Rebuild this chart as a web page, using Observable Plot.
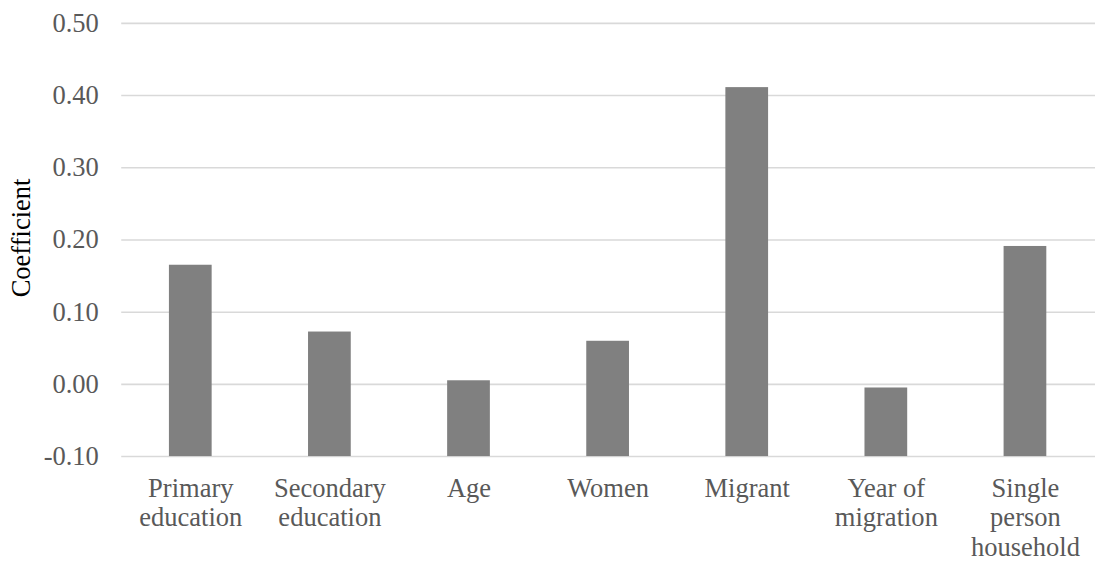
<!DOCTYPE html>
<html>
<head>
<meta charset="utf-8">
<script src="https://cdn.jsdelivr.net/npm/d3@7"></script>
<script src="https://cdn.jsdelivr.net/npm/@observablehq/plot@0.6"></script>
<style>
  html, body { margin: 0; padding: 0; background: #fff; overflow: hidden; }
  #chart { width: 1095px; height: 563px; overflow: hidden; }
  #chart svg, #chart svg text { font-family: "Liberation Serif", "Times New Roman", serif !important; }
</style>
</head>
<body>
<div id="chart"></div>
<script>
const categories = ["Primary education", "Secondary education", "Age", "Women", "Migrant", "Year of migration", "Single person household"];
const tickLabels = ["Primary\neducation", "Secondary\neducation", "Age", "Women", "Migrant", "Year of\nmigration", "Single\nperson\nhousehold"];
const coefficients = [0.165, 0.0725, 0.005, 0.0597, 0.411, -0.005, 0.191];
const yTicks = [-0.1, 0, 0.1, 0.2, 0.3, 0.4, 0.5];
const baseline = -0.1;

const data = categories.map((c, i) => ({category: c, value: coefficients[i]}));
const labelOf = new Map(categories.map((c, i) => [c, tickLabels[i]]));
const fmt = d => (d < 0 ? "-" : "") + Math.abs(d).toFixed(2);

const chart = Plot.plot({
  width: 1102,
  height: 563,
  marginTop: 23,
  marginBottom: 104,
  marginLeft: 122,
  marginRight: 0,
  style: {fontSize: "26.7px", background: "#fff"},
  x: {domain: categories, paddingInner: 0.69, paddingOuter: 0.345, label: null},
  y: {domain: [-0.1, 0.5], label: null},
  marks: [
    Plot.gridY(yTicks, {stroke: "#d9d9d9", strokeOpacity: 1, strokeWidth: 1.6}),
    Plot.barY(data, {x: "category", y1: () => baseline, y2: "value", fill: "#808080"}),
    Plot.axisY(yTicks, {tickSize: 0, tickPadding: 23, tickFormat: fmt, fill: "#595959", fontSize: 26.7, label: null}),
    Plot.axisX({tickSize: 0, tickPadding: 20, tickFormat: d => labelOf.get(d), fill: "#595959", fontSize: 26.7, lineHeight: 1.1, textAnchor: "middle", label: null}),
    Plot.text(["Coefficient"], {frameAnchor: "left", textAnchor: "middle", dx: -101, dy: -2, rotate: -90, fill: "#000", fontSize: 26.7})
  ]
});
document.getElementById("chart").appendChild(chart);
</script>
</body>
</html>
